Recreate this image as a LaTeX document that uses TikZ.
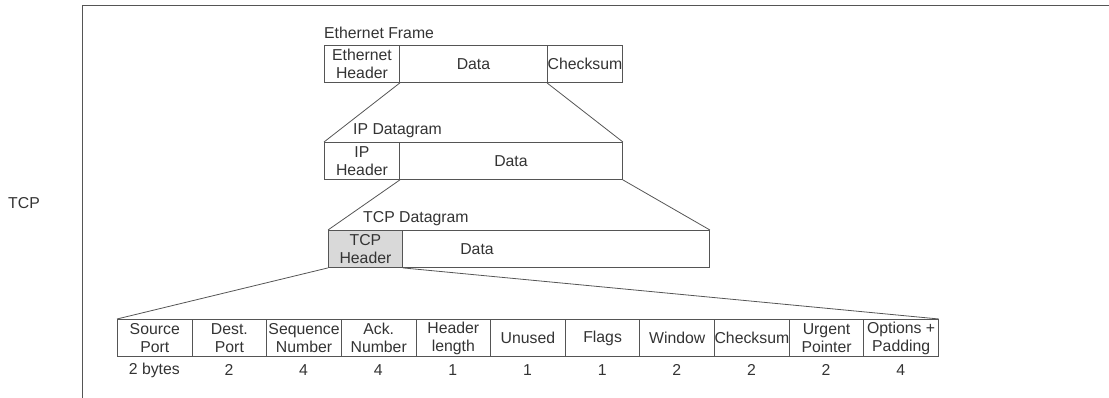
\documentclass[tikz,border=0pt]{standalone}
\usepackage{fontspec}
\setmainfont{Liberation Sans}
\definecolor{ink}{HTML}{333333}
\definecolor{rule}{HTML}{555555}
\definecolor{hdrfill}{HTML}{D9D9D9}
\begin{document}
\begin{tikzpicture}[x=1pt,y=-1pt,
  every node/.style={font=\fontsize{15.8}{18}\selectfont, text=ink},
  cell/.style={draw=rule, line width=0.9pt, anchor=north west, inner sep=0pt,
    align=center, minimum height=37pt},
  caption/.style={anchor=west, inner sep=0pt},
  link/.style={draw=rule, line width=0.8pt}]
\useasboundingbox (0,0) rectangle (1109,398);

% outer frame lines
\coordinate (fbot) at (82,398);
\coordinate (fcorner) at (82,5.7);
\coordinate (fright) at (1109,5.7);
\draw[rule, line width=0.9pt] (fbot) -- (fcorner) -- (fright);
\node (tcplabel) at (24,203) {TCP};

% Ethernet frame
\node[caption] (ethcap) at (324,33) {Ethernet Frame};
\node[cell, minimum width=75pt] (eh) at (324,45) {Ethernet\\Header};
\node[cell, minimum width=148pt] (ed) at (399,45) {Data};
\node[cell, minimum width=75pt] (ec) at (547,45) {Checksum};

% IP datagram
\node[caption] (ipcap) at (353,131) {IP Datagram};
\node[cell, minimum width=75pt] (ih) at (324,142) {IP\\Header};
\node[cell, minimum width=223pt] (id) at (399,142) {Data};

% TCP datagram
\node[caption] (tcpcap) at (363,219) {TCP Datagram};
\node[cell, minimum width=74pt, fill=hdrfill] (th) at (328,230) {TCP\\Header};
\node[cell, minimum width=307pt] (td) at (402,230) {};
\node (tdtext) at (477,249) {Data};

% encapsulation lines
\draw[link] (eh.south east) -- (ih.north west);
\draw[link] (ec.south west) -- (id.north east);
\draw[link] (ih.south east) -- (th.north west);
\draw[link] (id.south east) -- (td.north east);

% TCP header fields and sizes
\foreach \lbl/\sz [count=\i] in {{Source\\Port}/{2 bytes}, {Dest.\\Port}/2,
    {Sequence\\Number}/4, {Ack.\\Number}/4, {Header\\length}/1, Unused/1,
    Flags/1, Window/2, Checksum/2, {Urgent\\Pointer}/2, {Options +\\Padding}/4}{
  \node[cell, minimum width=74.64pt] (f\i) at ({117+(\i-1)*74.64},319) {\lbl};
  \node (s\i) at ({117+(\i-0.5)*74.64},370) {\sz};
}
\draw[link] (th.south west) -- (f1.north west);
\draw[link] (th.south east) -- (f11.north east);
\end{tikzpicture}
\end{document}
